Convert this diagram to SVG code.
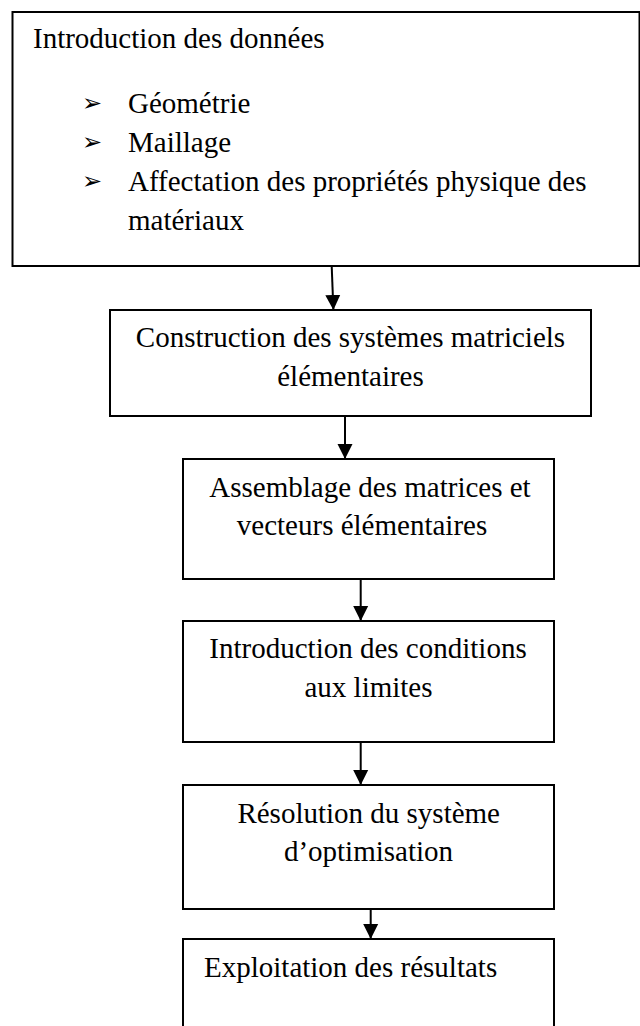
<svg xmlns="http://www.w3.org/2000/svg" width="640" height="1026" viewBox="0 0 640 1026">
<style>
.box{fill:#fff;stroke:#000;stroke-width:2}
.t{font-family:"Liberation Serif","Times New Roman",serif;font-size:29px;fill:#000}
.c{text-anchor:middle}
.b{font-family:"DejaVu Sans",sans-serif;font-size:24px;fill:#000}
.con{stroke:#000;stroke-width:2;fill:none}
</style>
<defs>
<marker id="ah" markerUnits="userSpaceOnUse" markerWidth="16" markerHeight="16" refX="15" refY="7.5" orient="auto" viewBox="0 0 16 15">
<path d="M0,0 L15,7.5 L0,15 z" fill="#000"/>
</marker>
</defs>
<rect width="640" height="1026" fill="#fff"/>
<g id="n1">
<rect class="box" x="12.5" y="12" width="627" height="254"/>
<text class="t" x="33" y="48">Introduction des données</text>
<text class="b" x="82" y="111">➢</text>
<text class="t" x="128" y="113">Géométrie</text>
<text class="b" x="82" y="150">➢</text>
<text class="t" x="128" y="152">Maillage</text>
<text class="b" x="82" y="189">➢</text>
<text class="t" x="128" y="191">Affectation des propriétés physique des</text>
<text class="t" x="128" y="230">matériaux</text>
</g>
<g id="n2">
<rect class="box" x="110" y="310" width="481" height="106"/>
<text class="t c" x="350.5" y="347">Construction des systèmes matriciels</text>
<text class="t c" x="350.5" y="386">élémentaires</text>
</g>
<g id="n3">
<rect class="box" x="183" y="459" width="371" height="120"/>
<text class="t c" x="370" y="497">Assemblage des matrices et</text>
<text class="t c" x="362" y="535">vecteurs élémentaires</text>
</g>
<g id="n4">
<rect class="box" x="183" y="621" width="371" height="121"/>
<text class="t c" x="368" y="658">Introduction des conditions</text>
<text class="t c" x="368.5" y="697">aux limites</text>
</g>
<g id="n5">
<rect class="box" x="183" y="785" width="371" height="124"/>
<text class="t c" x="368.7" y="823">Résolution du système</text>
<text class="t c" x="368.5" y="861">d’optimisation</text>
</g>
<g id="n6">
<rect class="box" x="183" y="939" width="371" height="100"/>
<text class="t" x="204" y="977">Exploitation des résultats</text>
</g>
<g id="connectors">
<line class="con" x1="331.7" y1="266" x2="333.4" y2="310" marker-end="url(#ah)"/>
<line class="con" x1="345" y1="416" x2="345" y2="459" marker-end="url(#ah)"/>
<line class="con" x1="360.7" y1="579" x2="360.7" y2="621" marker-end="url(#ah)"/>
<line class="con" x1="360.7" y1="742" x2="360.7" y2="785" marker-end="url(#ah)"/>
<line class="con" x1="370.7" y1="909" x2="370.7" y2="939" marker-end="url(#ah)"/>
</g>
</svg>
